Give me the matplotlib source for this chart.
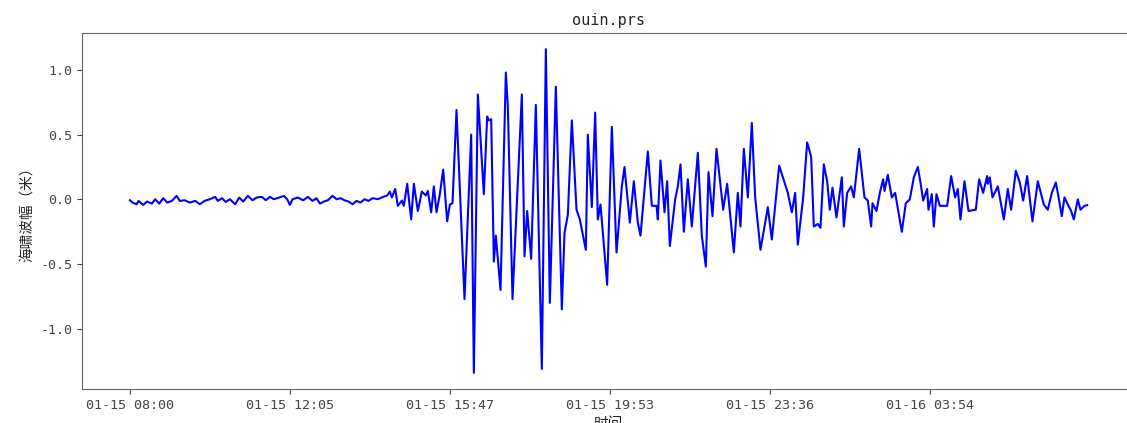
import matplotlib
matplotlib.use("Agg")
import matplotlib.pyplot as plt

plt.rcParams['font.family'] = ['Noto Sans CJK SC', 'DejaVu Sans']
plt.rcParams['axes.unicode_minus'] = False

station = "ouin.prs"

# sample number of each recorded point and the wave height there (m)
sample_idx = [
    0, 4, 10, 13, 20, 26, 33, 38, 44, 50, 56, 63, 70, 75, 82, 90, 98, 105,
    112, 120, 128, 132, 138, 144, 150, 158, 164, 170, 177, 184, 190, 198,
    204, 210, 216, 224, 231, 236, 240, 244, 252, 260, 267, 274, 280, 285,
    291, 297, 304, 310, 316, 322, 328, 334, 340, 346, 352, 358, 364, 372,
    380, 386, 390, 393, 398, 402, 408, 411, 416, 422, 426, 432, 438, 444,
    447, 452, 456, 460, 465, 470, 476, 480, 484, 490, 502, 512, 516, 522,
    531, 536, 538, 542, 546, 549, 556, 564, 567, 574, 588, 592, 596, 602,
    609, 618, 624, 630, 639, 648, 652, 657, 663, 670, 675, 684, 687, 693,
    698, 702, 706, 716, 723, 730, 738, 742, 750, 756, 762, 766, 777, 783,
    790, 792, 796, 802, 806, 810, 818, 822, 826, 831, 837, 843, 852, 858,
    864, 868, 874, 880, 890, 896, 906, 912, 916, 921, 927, 933, 938, 946,
    957, 963, 974, 982, 987, 993, 998, 1002, 1010, 1016, 1022, 1026, 1032,
    1036, 1041, 1046, 1050, 1054, 1060, 1068, 1071, 1076, 1082, 1086, 1094,
    1102, 1107, 1112, 1114, 1120, 1125, 1130, 1132, 1137, 1143, 1148, 1158,
    1164, 1170, 1176, 1182, 1186, 1190, 1196, 1198, 1203, 1206, 1210, 1215,
    1226, 1232, 1238, 1242, 1246, 1252, 1258, 1269, 1274, 1280, 1286, 1287,
    1290, 1294, 1302, 1311, 1317, 1322, 1329, 1335, 1340, 1346, 1354, 1362,
    1371, 1377, 1383, 1389, 1392, 1398, 1402, 1407, 1412, 1416, 1422, 1426,
    1432, 1436,
]

wave_height = [
    -0.007, -0.025, -0.038, -0.012, -0.043, -0.017, -0.033, 0.001, -0.033,
    0.009, -0.025, -0.012, 0.027, -0.012, -0.007, -0.025, -0.012, -0.038,
    -0.012, 0.001, 0.019, -0.012, 0.009, -0.020, 0.001, -0.038, 0.014,
    -0.017, 0.027, -0.007, 0.014, 0.019, -0.007, 0.019, 0.001, 0.014, 0.027,
    0.001, -0.043, 0.001, 0.014, -0.007, 0.019, -0.012, 0.009, -0.033,
    -0.017, -0.007, 0.027, 0.001, 0.009, -0.007, -0.017, -0.038, -0.012,
    -0.025, 0.001, -0.012, 0.009, 0.001, 0.019,
    0.03, 0.06, 0.015, 0.08, -0.05, -0.01, -0.05, 0.12, -0.155, 0.12,
    -0.09, 0.06, 0.03, 0.065, -0.10, 0.10, -0.10, 0.04, 0.23, -0.17, -0.04,
    -0.03, 0.69, -0.77, 0.50, -1.34, 0.81, 0.04, 0.64, 0.61, 0.62, -0.48,
    -0.28, -0.70, 0.98, 0.72, -0.77, 0.81, -0.44, -0.09, -0.46, 0.73, -1.31,
    1.16, -0.80, 0.87, -0.85, -0.26, -0.12, 0.61, -0.08, -0.155, -0.39, 0.50,
    -0.06, 0.67, -0.155, -0.04, -0.66, 0.56, -0.41, 0.10, 0.25, -0.18, 0.14,
    -0.18, -0.28, 0.37, -0.05, -0.05, -0.155, 0.30, -0.10, 0.14, -0.36, 0.0,
    0.10, 0.27, -0.25, 0.155, -0.21, 0.36, -0.28, -0.52, 0.21, -0.13, 0.39,
    -0.08, 0.12, -0.41, 0.05, -0.21, 0.39, 0.015, 0.59, 0.015, -0.39, -0.06,
    -0.31, 0.26, 0.13, 0.05, -0.10, 0.05, -0.35, 0.015, 0.44, 0.33, -0.21,
    -0.19, -0.22, 0.27, 0.14, -0.08, 0.09, -0.14, 0.17, -0.21, 0.05, 0.10,
    0.015, 0.39, 0.015, -0.01, -0.21, -0.03, -0.09, 0.05, 0.155, 0.065, 0.19,
    0.015, 0.05, -0.25, -0.03, 0.0, 0.17, 0.25, 0.13, -0.01, 0.08, -0.08,
    0.04, -0.21, 0.04, -0.05, -0.05, 0.18, 0.015, 0.08, -0.155, 0.14, -0.09,
    -0.08, 0.155, 0.05, 0.18, 0.12, 0.17, 0.015, 0.10, -0.155, 0.08, -0.08,
    0.22, 0.13, -0.01, 0.18, -0.17, 0.14, -0.04, -0.08, 0.05, 0.13, 0.05,
    -0.13, 0.015, -0.04, -0.09, -0.155, 0.0, -0.08, -0.05, -0.045,
]

# time stamps shown every 240 samples
tick_samples = [0, 240, 480, 720, 960, 1200]
tick_labels = ["01-15 08:00", "01-15 12:05", "01-15 15:47",
               "01-15 19:53", "01-15 23:36", "01-16 03:54"]

W, H = 1127, 423
fig = plt.figure(figsize=(W / 100, H / 100), dpi=100)
ax = fig.add_axes([82 / W, (H - 389) / H, (1135 - 82) / W, (389 - 33) / H])

ax.plot(sample_idx, wave_height, color="blue", linewidth=1.5)

mono = ['DejaVu Sans Mono', 'Noto Sans CJK SC']
ink = "#262626"

ax.set_xticks(tick_samples)
ax.set_xticklabels(tick_labels, family=mono, fontsize=9.6, color=ink)
for lab in ax.get_yticklabels():
    lab.set_family(mono)
    lab.set_fontsize(9.6)
    lab.set_color(ink)

ax.set_title(station, family=mono, fontsize=11, color=ink)
ax.set_xlabel("时间", fontsize=10.5, color=ink)
ax.set_ylabel("海啸波幅（米）", fontsize=10.5, color=ink)

ax.tick_params(colors="#444444")
for sp in ax.spines.values():
    sp.set_color("#666666")

fig.savefig("out.png", dpi=100)
